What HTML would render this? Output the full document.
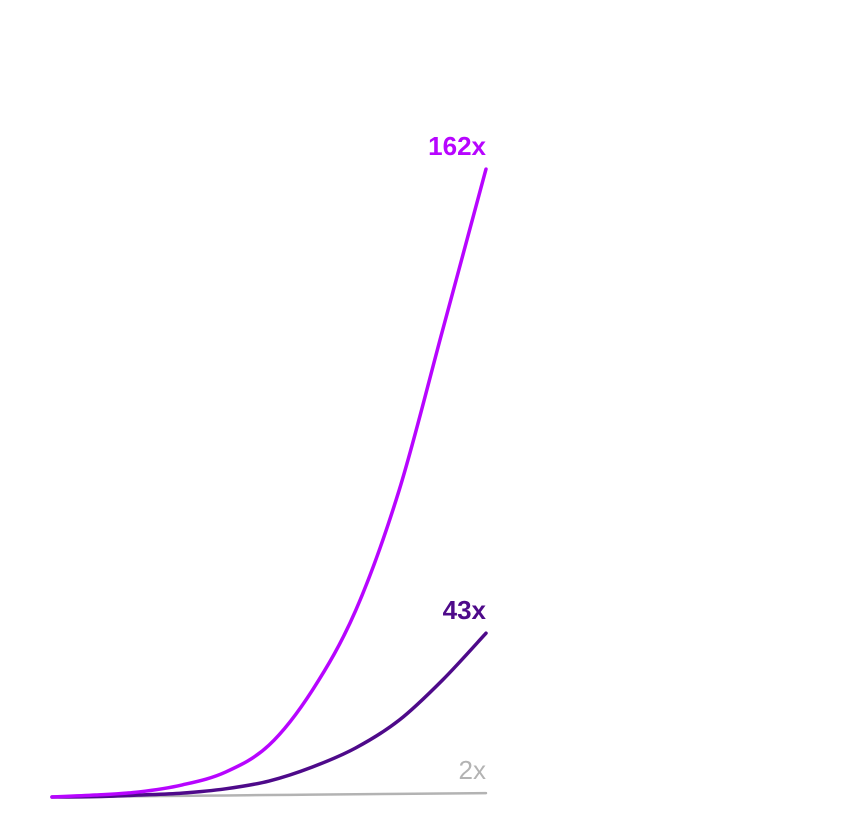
<!DOCTYPE html>
<html><head><meta charset="utf-8"><style>
html,body{margin:0;padding:0;background:#fff;width:843px;height:833px;overflow:hidden}
svg{display:block}
text{font-family:"Liberation Sans",sans-serif}
</style></head><body>
<svg id="chart" width="843" height="833" viewBox="0 0 843 833"></svg>
<script>
const steps = [0,1,2,3,4,5,6,7,8,9,10];
const seriesHigh = [1,1.5,2.3,4.1,7.4,14.3,28.4,48.9,79.7,120.7,162];
const seriesMid = [1,1.1,1.5,2,3.1,5.1,8.7,13.6,20.7,31,43];
const seriesLow = [1,1.1,1.2,1.3,1.4,1.5,1.6,1.7,1.8,1.9,2];
const labels = ["162x","43x","2x"];

const svg = document.getElementById('chart');
const NS = 'http://www.w3.org/2000/svg';
const x0 = 52, x1 = 486, yBase = 797, pxPerUnit = 3.9;
function xs(t){ return x0 + (x1 - x0) * t / steps[steps.length-1]; }
function ys(v){ return yBase - (v - 1) * pxPerUnit; }
function pathFor(vals){
  const p = vals.map((v,i)=>[xs(steps[i]), ys(v)]);
  let d = 'M' + p[0][0] + ',' + p[0][1];
  for(let i=0;i<p.length-1;i++){
    const a=p[i-1]||p[i], b=p[i], c=p[i+1], e=p[i+2]||c;
    const c1=[b[0]+(c[0]-a[0])/6, b[1]+(c[1]-a[1])/6];
    const c2=[c[0]-(e[0]-b[0])/6, c[1]-(e[1]-b[1])/6];
    d += ' C'+c1[0]+','+c1[1]+' '+c2[0]+','+c2[1]+' '+c[0]+','+c[1];
  }
  return d;
}
const defs = [
  {vals: seriesLow, color:'#b3b3b3', w:2.5, name:'line-2x', label:labels[2], weight:'normal'},
  {vals: seriesMid, color:'#4e0a8a', w:3.5, name:'line-43x', label:labels[1], weight:'bold'},
  {vals: seriesHigh, color:'#b705ff', w:3.5, name:'line-162x', label:labels[0], weight:'bold'}
];
defs.forEach(s=>{
  const path = document.createElementNS(NS,'path');
  path.setAttribute('d', pathFor(s.vals));
  path.setAttribute('fill','none');
  path.setAttribute('stroke', s.color);
  path.setAttribute('stroke-width', s.w);
  path.setAttribute('stroke-linecap','round');
  
  
  svg.appendChild(path);
  const t = document.createElementNS(NS,'text');
  t.setAttribute('x', x1);
  t.setAttribute('y', ys(s.vals[s.vals.length-1]) - 14);
  t.setAttribute('text-anchor','end');
  t.setAttribute('font-size','26');
  t.setAttribute('font-weight', s.weight);
  t.setAttribute('fill', s.color);
  t.textContent = s.label;
  
  
  svg.appendChild(t);
});
</script>
</body></html>
